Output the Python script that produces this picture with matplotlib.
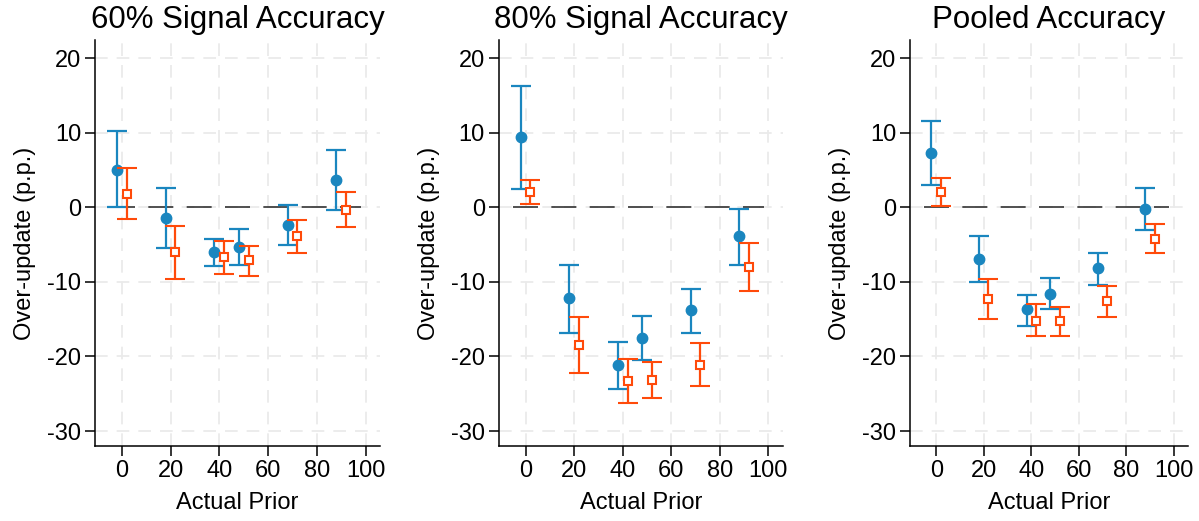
import numpy as np
import matplotlib.pyplot as plt

plt.rcParams['font.family'] = ['Liberation Sans', 'DejaVu Sans']
plt.rcParams['axes.unicode_minus'] = False

# priors where estimates were taken
priors = np.array([0, 20, 40, 50, 70, 90])

titles = ['60% Signal Accuracy', '80% Signal Accuracy', 'Pooled Accuracy']

# blue series (circles): point, upper, lower
blue_est = [
    [5.0, -1.4, -6.0, -5.3, -2.4, 3.7],
    [9.4, -12.2, -21.2, -17.5, -13.8, -3.9],
    [7.3, -6.9, -13.7, -11.6, -8.2, -0.2],
]
blue_hi = [
    [10.2, 2.6, -4.2, -2.9, 0.3, 7.7],
    [16.2, -7.8, -18.1, -14.6, -10.9, -0.2],
    [11.6, -3.8, -11.7, -9.5, -6.1, 2.6],
]
blue_lo = [
    [0.0, -5.4, -7.9, -7.8, -5.1, -0.4],
    [2.5, -16.8, -24.4, -20.5, -16.8, -7.7],
    [3.0, -10.0, -15.9, -13.6, -10.4, -3.0],
]

# orange series (hollow squares)
orng_est = [
    [1.8, -6.0, -6.7, -7.1, -3.8, -0.4],
    [2.1, -18.4, -23.3, -23.1, -21.1, -8.0],
    [2.0, -12.3, -15.2, -15.3, -12.6, -4.3],
]
orng_hi = [
    [5.2, -2.5, -4.5, -5.2, -1.7, 2.0],
    [3.7, -14.7, -20.3, -20.7, -18.2, -4.8],
    [3.9, -9.6, -13.0, -13.4, -10.5, -2.2],
]
orng_lo = [
    [-1.6, -9.6, -8.9, -9.2, -6.1, -2.7],
    [0.5, -22.2, -26.3, -25.6, -23.9, -11.2],
    [0.1, -15.0, -17.3, -17.2, -14.7, -6.2],
]

blue = '#1A86BF'
orange = '#FF4A0A'

fig = plt.figure(figsize=(11.99, 5.21), dpi=100)
lefts = [0.0792, 0.416, 0.759]
widths = [0.238, 0.237, 0.232]

for i in range(3):
    ax = fig.add_axes([lefts[i], 0.144, widths[i], 0.779])

    ax.set_xlim(-11, 106)
    ax.set_ylim(-32, 22.4)
    ax.set_xticks([0, 20, 40, 60, 80, 100])
    ax.set_yticks([20, 10, 0, -10, -20, -30])
    ax.grid(True, color='#EAEAEA', linestyle=(0, (7, 5)), linewidth=1.3)
    ax.set_axisbelow(True)

    ax.plot([-5, 98], [0, 0], color='#333333', linestyle=(0, (15, 8)),
            linewidth=1.2, zorder=2)

    b = np.array(blue_est[i])
    ax.errorbar(priors - 2, b,
                yerr=[b - np.array(blue_lo[i]), np.array(blue_hi[i]) - b],
                fmt='o', color=blue, ms=7.5, elinewidth=1.6, capsize=7,
                capthick=1.6, zorder=3)
    o = np.array(orng_est[i])
    ax.errorbar(priors + 2, o,
                yerr=[o - np.array(orng_lo[i]), np.array(orng_hi[i]) - o],
                fmt='s', color=orange, mfc='white', mec=orange, mew=1.5,
                ms=6, elinewidth=1.6, capsize=7, capthick=1.6, zorder=4)

    for s in ['top', 'right']:
        ax.spines[s].set_visible(False)
    for s in ['left', 'bottom']:
        ax.spines[s].set_linewidth(1.1)
    ax.tick_params(labelsize=17, length=7, width=1.1, direction='out', pad=3)
    ax.set_title(titles[i], fontsize=22.5, pad=9)
    ax.set_xlabel('Actual Prior', fontsize=17, labelpad=7)
    ax.set_ylabel('Over-update (p.p.)', fontsize=17, labelpad=8)

fig.savefig('out.png', dpi=100)
